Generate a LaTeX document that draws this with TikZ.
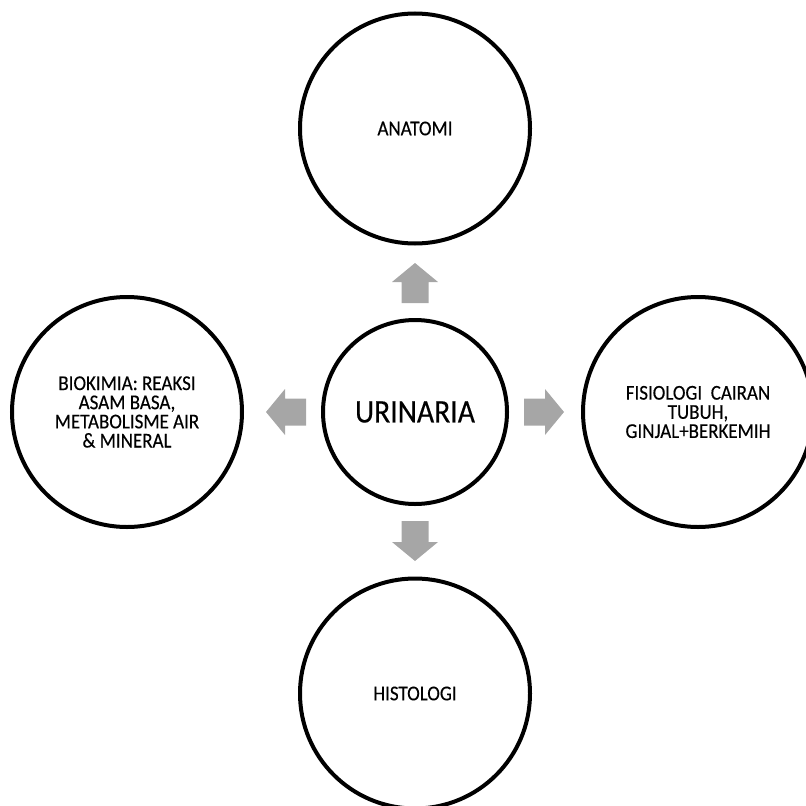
\documentclass[tikz,border=0pt]{standalone}
\usepackage{fontspec}
\setmainfont{Carlito}[FakeStretch=0.9, FakeBold=0.3]
\usepackage{tikz}
\usetikzlibrary{positioning}

\definecolor{arrowgray}{RGB}{166,166,166}

\begin{document}
\begin{tikzpicture}[
  topic/.style={circle, draw=black, line width=0.08cm, minimum size=4.6cm,
    inner sep=0pt, align=center, font=\fontsize{12}{10.9}\selectfont},
  hubcircle/.style={circle, draw=black, line width=0.08cm, minimum size=3.68cm,
    inner sep=0pt, font=\fontsize{18.8}{20}\selectfont}]
\useasboundingbox (-8.30,-7.86) rectangle (7.82,8.24);
\node[hubcircle] (urin) at (0,0) {URINARIA};
\node[topic] (anat) at (0,5.67) {ANATOMI};
\node[topic] (histo) at (0,-5.63) {HISTOLOGI};
\node[topic] (biokim) at (-5.76,0) {BIOKIMIA: REAKSI\\ASAM BASA,\\METABOLISME AIR\\\& MINERAL};
\node[topic] (fisio) at (5.66,0) {FISIOLOGI\ \ CAIRAN\\TUBUH,\\GINJAL+BERKEMIH};
% block arrows round the hub
\foreach \ang in {0,90,180,270} {
  \fill[arrowgray, shift={(urin.center)}, rotate=\ang]
    (2.18,-0.27) -- (2.6,-0.27) -- (2.6,-0.46) -- (2.98,0)
    -- (2.6,0.46) -- (2.6,0.27) -- (2.18,0.27) -- cycle;
}
\end{tikzpicture}
\end{document}
